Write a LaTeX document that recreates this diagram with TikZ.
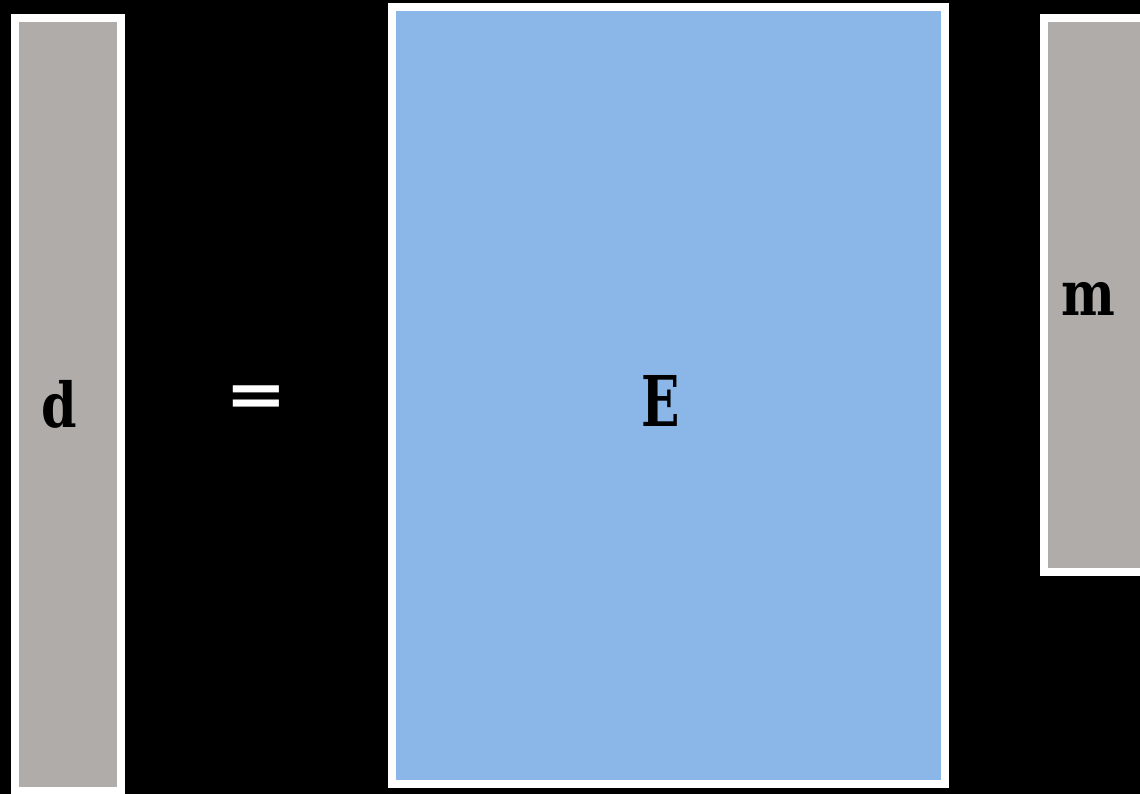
\documentclass[tikz,border=0pt]{standalone}
\usepackage{graphicx}
\usepackage{fontspec}
\setmainfont{DejaVu Serif}
\definecolor{vecgray}{RGB}{176,172,170}
\definecolor{matblue}{RGB}{139,183,232}
\begin{document}
\begin{tikzpicture}[x=1pt,y=-1pt,
  box/.style={draw=white,line width=8pt},
  lbl/.style={anchor=base,inner sep=0pt,font=\bfseries\fontsize{62}{70}\selectfont}]
\useasboundingbox[fill=black] (0,0) rectangle (1140,794);
\draw[box,fill=vecgray] (15,18) rectangle (120.5,791);
\draw[box,fill=matblue] (391.5,7) rectangle (945.3,784);
\draw[box,fill=vecgray] (1044,18) rectangle (1160,572);
\node[lbl] (d) at (59,427) {\scalebox{0.82}[1]{d}};
\node[lbl,text=white,font=\bfseries\fontsize{64}{70}\selectfont] (eq) at (256,416) {\scalebox{1.15}[1]{=}};
\node[lbl,font=\bfseries\fontsize{70}{80}\selectfont] (E) at (661,426) {\scalebox{0.72}[1]{E}};
\node[lbl] (m) at (1088,315) {\scalebox{0.82}[1]{m}};
\end{tikzpicture}
\end{document}
